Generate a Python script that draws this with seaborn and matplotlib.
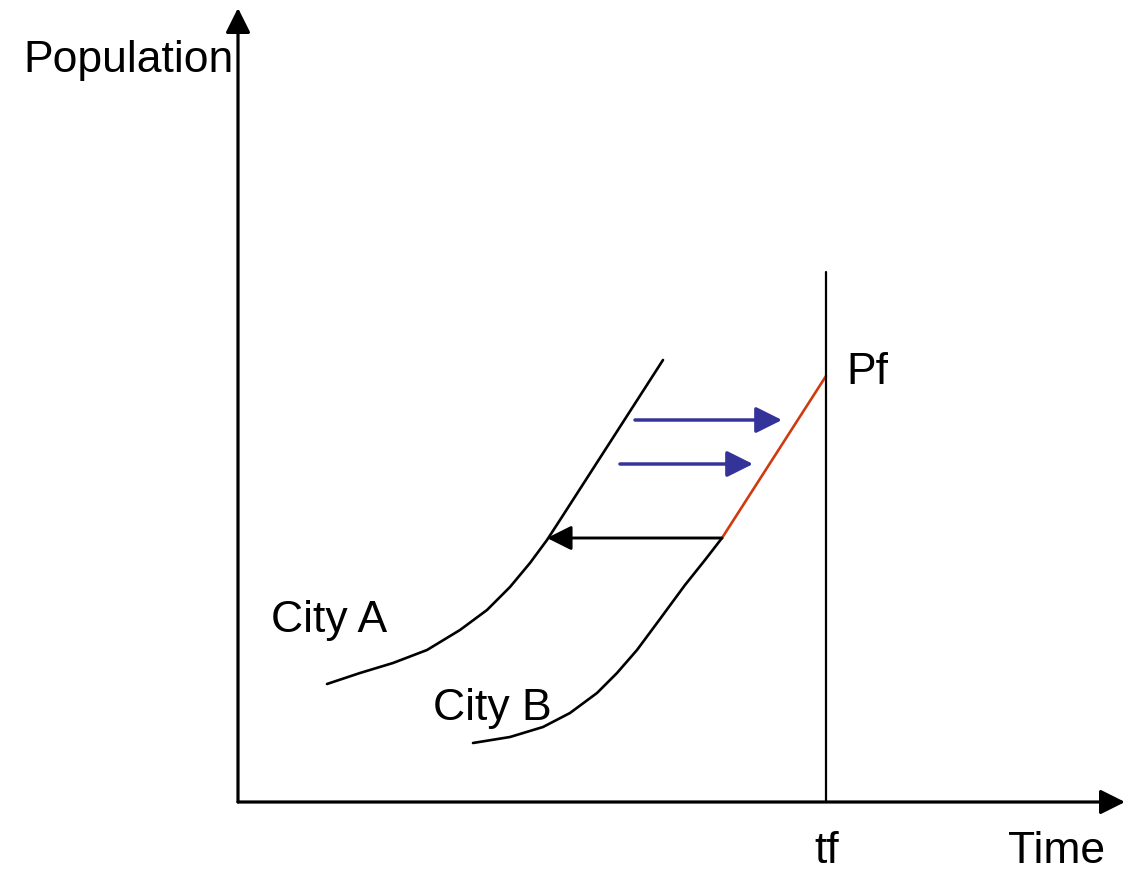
#Schematic: two city growth curves vs time
import matplotlib
matplotlib.use("Agg")
import matplotlib.pyplot as plt
import pandas as pd
import seaborn as sns

sns.set_style("white")
plt.rcParams['font.family'] = ['Liberation Sans', 'DejaVu Sans']

#curve points (pixel-like units, y grows downward)
city_a_t = [327, 360, 393, 427, 460, 487, 510, 530, 547, 560, 663]
city_a_p = [684, 673, 663, 650, 630, 610, 587, 563, 540, 520, 360]
city_b_t = [473, 510, 543, 570, 597, 617, 637, 660, 685, 705, 722]
city_b_p = [743, 737, 727, 713, 693, 673, 650, 619, 585, 560, 538]
proj_t = [722, 826]
proj_p = [538, 376]

tf = 826
tf_top = 272
origin = (238, 802)
axis_end_x = 1125
axis_end_y = 8

blue_arrows = [(635, 782, 420), (620, 753, 464)]
back_arrow = (722, 547, 538)

#labels: (x, baseline y, text, anchor)
labels = [(23, 72, "Population", "left"),
          (271, 632, "City A", "left"),
          (433, 720, "City B", "left"),
          (846, 384, "Pf", "left"),
          (827, 863, "tf", "center"),
          (1008, 863, "Time", "left")]

city_a = pd.DataFrame({"t": city_a_t, "p": city_a_p})
city_b = pd.DataFrame({"t": city_b_t, "p": city_b_p})
proj = pd.DataFrame({"t": proj_t, "p": proj_p})

fig = plt.figure(figsize=(11.25, 8.74), dpi=100)
ax = fig.add_axes([0, 0, 1, 1])

line_kw = dict(sort=False, linewidth=1.9, ax=ax, solid_joinstyle="round")
sns.lineplot(data=city_a, x="t", y="p", color="black", **line_kw)
sns.lineplot(data=city_b, x="t", y="p", color="black", **line_kw)
sns.lineplot(data=proj, x="t", y="p", color="#d03a10", **line_kw)

#vertical line at tf
ax.plot([tf, tf], [origin[1], tf_top], color="black", linewidth=1.6)

#axes with arrowheads
head = "-|>,head_length=1.0,head_width=0.5"
ax.annotate("", xy=(origin[0], axis_end_y), xytext=origin,
            arrowprops=dict(arrowstyle=head, color="black", lw=2.3,
                            mutation_scale=15, shrinkA=0, shrinkB=0))
ax.annotate("", xy=(axis_end_x, origin[1]), xytext=origin,
            arrowprops=dict(arrowstyle=head, color="black", lw=2.3,
                            mutation_scale=15, shrinkA=0, shrinkB=0))

for x0, x1, y in blue_arrows:
    ax.annotate("", xy=(x1, y), xytext=(x0, y),
                arrowprops=dict(arrowstyle=head, color="#333399", lw=2.5,
                                mutation_scale=16, shrinkA=0, shrinkB=0))

x0, x1, y = back_arrow
ax.annotate("", xy=(x1, y), xytext=(x0, y),
            arrowprops=dict(arrowstyle=head, color="black", lw=2.1,
                            mutation_scale=15, shrinkA=0, shrinkB=0))

for x, y, s, ha in labels:
    ax.text(x, y, s, fontsize=32, va="baseline", ha=ha, color="black")

ax.set_xlim(0, 1125)
ax.set_ylim(874, 0)
ax.axis("off")

plt.savefig("out.png", dpi=100)
